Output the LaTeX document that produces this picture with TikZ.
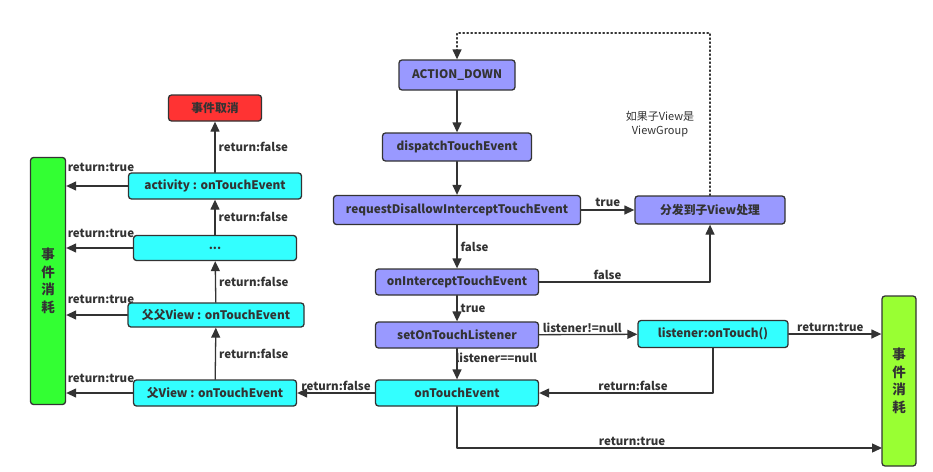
\documentclass[tikz,border=0pt]{standalone}
\usepackage{fontspec}
\setmainfont{Noto Sans CJK SC}
\usetikzlibrary{arrows.meta}
\definecolor{edge}{RGB}{51,51,51}
\definecolor{purp}{RGB}{153,153,255}
\definecolor{cyanbox}{RGB}{51,255,255}
\definecolor{redbox}{RGB}{255,51,51}
\definecolor{lgreen}{RGB}{51,255,51}
\definecolor{rgreen}{RGB}{153,255,51}
\begin{document}
\begin{tikzpicture}[x=1pt,y=-1pt,>={Triangle[length=10pt,width=9pt]}, line join=round, line cap=round,
	box/.style={draw=edge, line width=1.3pt, rounded corners=3pt, inner sep=0pt, align=center, text=edge, font=\bfseries\fontsize{11.8}{14}\selectfont},
	tall/.style={box, font=\bfseries\fontsize{13.5}{17.5}\selectfont},
	lab/.style={text=edge, inner sep=1pt, font=\bfseries\fontsize{11.5}{13}\selectfont},
	link/.style={draw=edge, line width=1.3pt, ->}]
	\useasboundingbox (0,0) rectangle (933,471);
	% mittlere Spalte
	\node[box, fill=purp, minimum width=116, minimum height=30] (down) at (457,75) {ACTION\_DOWN};
	\node[box, fill=purp, minimum width=149, minimum height=28] (disp) at (457,147) {dispatchTouchEvent};
	\node[box, fill=purp, minimum width=247, minimum height=29] (req) at (457,210) {requestDisallowInterceptTouchEvent};
	\node[box, fill=purp, minimum width=150, minimum height=28] (child) at (710,210) {分发到子View处理};
	\node[box, fill=purp, minimum width=163, minimum height=26] (intc) at (457,282) {onInterceptTouchEvent};
	\node[box, fill=purp, minimum width=163, minimum height=26] (setl) at (457,335) {setOnTouchListener};
	\node[box, fill=cyanbox, minimum width=150, minimum height=27] (lis) at (713,334) {listener:onTouch()};
	\node[box, fill=cyanbox, minimum width=163, minimum height=26] (ote) at (457,393) {onTouchEvent};
	\node[tall, fill=rgreen, minimum width=34, minimum height=170] (rg) at (899,381) {事\\件\\消\\耗};
	% linke Spalte
	\node[tall, fill=lgreen, minimum width=35, minimum height=247] (lg) at (48,281) {事\\件\\消\\耗};
	\node[box, fill=cyanbox, minimum width=163, minimum height=26] (f) at (215,393) {父View : onTouchEvent};
	\node[box, fill=cyanbox, minimum width=176, minimum height=24] (ff) at (216,315) {父父View : onTouchEvent};
	\node[box, fill=cyanbox, minimum width=163, minimum height=25] (dots) at (215,248) {...};
	\node[box, fill=cyanbox, minimum width=173, minimum height=26] (act) at (215,186) {activity : onTouchEvent};
	\node[box, fill=redbox, minimum width=93, minimum height=26] (cancel) at (215,108) {事件取消};
	% Verbindungen
	\coordinate (loop) at (584,33);
	\draw[link, dash pattern=on 1.4pt off 2.6pt] (child.north) |- (loop) -| (down.north);
	\node[text=edge, align=center, font=\fontsize{11}{13.5}\selectfont] (hint) at (660,124) {如果子View是\\ViewGroup};
	\draw[link] (down) -- (disp);
	\draw[link] (disp) -- (req);
	\draw[link] (req) -- (child) node[lab, midway, above=2pt]{true};
	\draw[link] (req) -- (intc) node[lab, midway, right=2pt]{false};
	\draw[link] (intc.east) -| (child.south) node[lab, pos=0.2, above=1pt]{false};
	\draw[link] (intc) -- (setl) node[lab, midway, right=2pt]{true};
	\draw[link] (setl) -- (lis) node[lab, pos=0.02, above right=0pt]{listener!=null};
	\draw[link] (setl) -- (ote) node[lab, pos=0.3, right=-3pt]{listener==null};
	\draw[link] (lis.south) |- (ote.east) node[lab, pos=0.73, above=1pt]{return:false};
	\draw[link] (lis) -- (lis -| rg.west) node[lab, pos=0.45, above=1pt]{return:true};
	\coordinate (bot) at (882,448);
	\draw[link] (ote.south) |- (bot) node[lab, pos=0.706, above=1pt]{return:true};
	\draw[link] (ote) -- (f) node[lab, midway, above=1pt]{return:false};
	% Rueckweg nach oben
	\draw[link] (f) -- (ff) node[lab, midway, right=2pt]{return:false};
	\draw[link] (ff) -- (dots) node[lab, midway, right=2pt]{return:false};
	\draw[link] (dots) -- (act) node[lab, midway, right=2pt]{return:false};
	\draw[link] (act) -- (cancel) node[lab, midway, right=2pt]{return:false};
	\foreach \n/\s in {f/9, ff/10, dots/9, act/13}{
		\draw[link] (\n) -- (\n -| lg.east) node[lab, pos=1, above right, yshift=\s]{return:true};
	}
\end{tikzpicture}
\end{document}
